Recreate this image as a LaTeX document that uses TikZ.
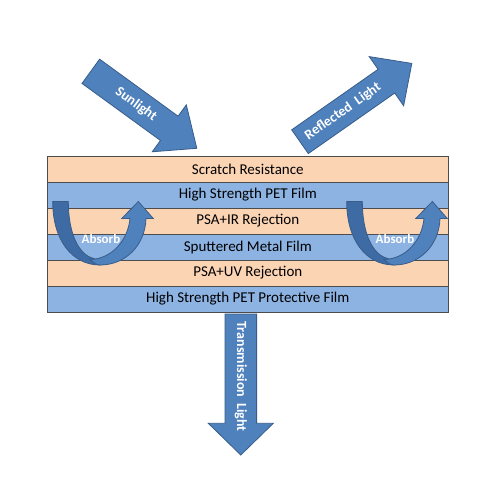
\documentclass[tikz,border=0pt]{standalone}
\usepackage{fontspec}
\setmainfont{Carlito}
\definecolor{peach}{HTML}{FBD4B4}
\definecolor{skyblue}{HTML}{8DB3E2}
\definecolor{arrowfill}{HTML}{4F81BD}
\definecolor{arrowdark}{HTML}{3E6BA3}
\definecolor{arrowline}{HTML}{385D8A}
\begin{document}
\begin{tikzpicture}[x=1pt,y=-1pt,
  layer/.style={draw=black!70, line width=0.7pt, minimum width=401pt, minimum height=26pt,
    inner sep=0pt, font=\fontsize{15}{18}\selectfont, text=black},
  bigarrow/.style={draw=arrowline, fill=arrowfill, line width=0.8pt},
  uback/.style={draw=arrowline, fill=arrowdark, line width=0.8pt},
  ufront/.style={draw=arrowline, fill=arrowfill, line width=0.8pt},
  arrowtext/.style={text=white, font=\bfseries\fontsize{14}{16}\selectfont, inner sep=0pt}]
\useasboundingbox (0,0) rectangle (500,500);
\fill[white] (0,0) rectangle (500,500);

% layers
\node[layer, fill=peach]   (l1) at (247.8,169) {Scratch Resistance};
\node[layer, fill=skyblue] (l2) at (247.8,195) {High Strength PET Film};
\node[layer, fill=peach]   (l3) at (247.8,221) {PSA+IR Rejection};
\node[layer, fill=skyblue] (l4) at (247.8,247) {Sputtered Metal Film};
\node[layer, fill=peach]   (l5) at (247.8,273) {PSA+UV Rejection};
\node[layer, fill=skyblue] (l6) at (247.8,299) {High Strength PET Protective Film};

% sunlight
\begin{scope}[shift={(90.8,71.3)}, rotate=-36]
\draw[bigarrow] (0,-15) -- (97,-15) -- (97,-29) -- (131,0) -- (97,29) -- (97,15) -- (0,15) -- cycle;
\node[arrowtext, rotate=-36] (sun) at (56,0) {Sunlight};
\end{scope}

% reflected
\begin{scope}[shift={(300,141.7)}, rotate=35]
\draw[bigarrow] (0,-14.5) -- (105.5,-14.5) -- (105.5,-30) -- (136.5,0) -- (105.5,30) -- (105.5,14.5) -- (0,14.5) -- cycle;
\node[arrowtext, rotate=35] (refl) at (52.5,0) {Reflected\ \ Light};
\end{scope}

% transmission
\begin{scope}[shift={(240.8,314)}, rotate=-90]
\draw[bigarrow] (0,-15.8) -- (109.3,-15.8) -- (109.3,-32.5) -- (141,0) -- (109.3,32.5) -- (109.3,15.8) -- (0,15.8) -- cycle;
\node[arrowtext, rotate=-90] (trans) at (62.7,0) {Transmission\ \ Light};
\end{scope}

% absorb U-turn arrows
\foreach \dx/\nm in {0/abs1, 294/abs2}{
\begin{scope}[xshift=\dx]
\draw[uback] (52.7,201.5) -- (68.3,201.5) .. controls (68.3,232) and (78,255) .. (94,258.5)
  -- (100,265) .. controls (72,265) and (52.7,240) .. (52.7,201.5) -- cycle;
\draw[ufront] (90,259.5) .. controls (112,259) and (128,240) .. (130,218.5) -- (121.7,218.5)
  -- (138.3,201.5) -- (153.3,218.5) -- (146,218.5) .. controls (145,246) and (125,265) .. (100,265)
  .. controls (96,265) and (93,262) .. (90,259.5) -- cycle;
\node[arrowtext, font=\bfseries\fontsize{13}{15}\selectfont] (\nm) at (101,239) {Absorb};
\end{scope}
}
\end{tikzpicture}
\end{document}
